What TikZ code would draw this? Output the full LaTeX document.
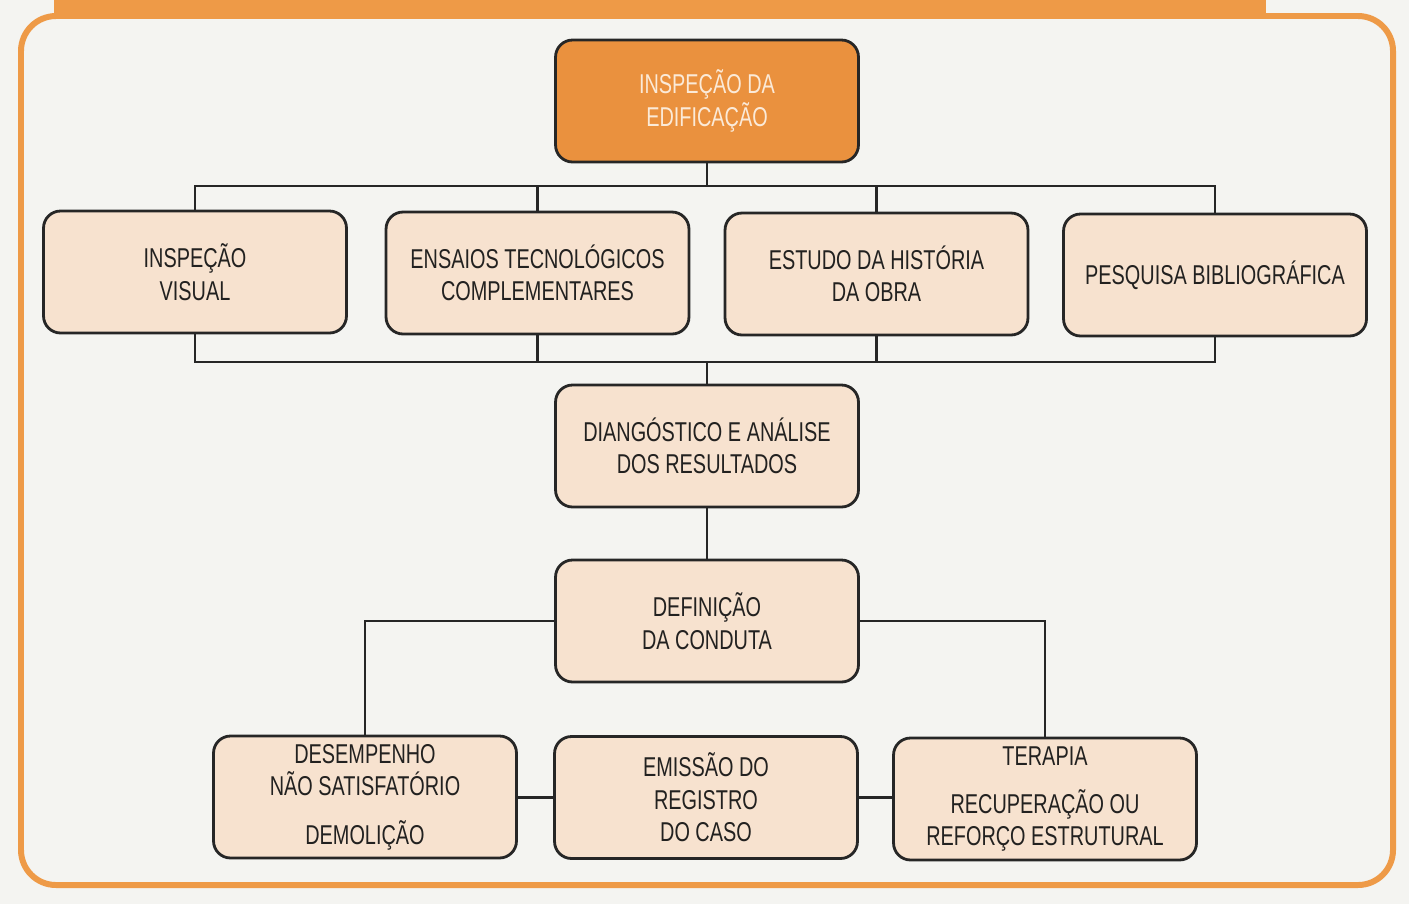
\documentclass[tikz,border=0pt]{standalone}
\usepackage{fontspec}
\setmainfont{Liberation Sans}[FakeStretch=0.73]
\definecolor{pagebg}{HTML}{F4F4F1}
\definecolor{frameorange}{HTML}{EE9A47}
\definecolor{headfill}{HTML}{EA913E}
\definecolor{headtext}{HTML}{FBEAD8}
\definecolor{boxfill}{HTML}{F7E2CF}
\definecolor{inktext}{HTML}{222120}
\tikzset{
  stepbox/.style={draw=black!85, line width=1.6pt, rounded corners=0.34cm,
    fill=boxfill, text=inktext, align=center,
    minimum width=6.06cm, minimum height=2.44cm, inner sep=0pt,
    font=\fontsize{15.5}{18.5}\selectfont},
  headbox/.style={stepbox, fill=headfill, text=headtext},
  link/.style={draw=black!85, line width=1.3pt}
}
\begin{document}
\begin{tikzpicture}[x=0.02cm, y=-0.02cm]
  % page and frame
  \fill[pagebg] (0,0) rectangle (1409,904);
  \useasboundingbox (0,0) rectangle (1409,904);
  \fill[frameorange] (54,0) rectangle (1266,15);
  \draw[frameorange, line width=3.4pt, rounded corners=0.7cm]
    (21,16) rectangle (1393,885);

  % boxes
  \node[headbox] (top) at (707,101) {INSPEÇÃO DA\\EDIFICAÇÃO};
  \node[stepbox] (vis) at (195,272) {INSPEÇÃO\\VISUAL};
  \node[stepbox] (ens) at (537.5,273) {ENSAIOS TECNOLÓGICOS\\COMPLEMENTARES};
  \node[stepbox] (his) at (876.5,274) {ESTUDO DA HISTÓRIA\\DA OBRA};
  \node[stepbox] (bib) at (1215,275) {PESQUISA BIBLIOGRÁFICA};
  \node[stepbox] (dia) at (707,446) {DIANGÓSTICO E ANÁLISE\\DOS RESULTADOS};
  \node[stepbox] (def) at (707,621) {DEFINIÇÃO\\DA CONDUTA};
  \node[stepbox] (des) at (365,797) {DESEMPENHO\\NÃO SATISFATÓRIO\\[9pt]DEMOLIÇÃO};
  \node[stepbox] (emi) at (706,797.5) {EMISSÃO DO\\REGISTRO\\DO CASO};
  \node[stepbox] (ter) at (1045,799) {TERAPIA\\[9pt]RECUPERAÇÃO OU\\REFORÇO ESTRUTURAL};

  % buses
  \coordinate (busA) at (707,186);
  \coordinate (busB) at (707,362);

  % connectors
  \draw[link] (top.south) -- (busA);
  \draw[link] (vis.north) |- (busA);
  \draw[link] (ens.north) |- (busA);
  \draw[link] (his.north) |- (busA);
  \draw[link] (bib.north) |- (busA);
  \draw[link] (vis.south) |- (busB);
  \draw[link] (ens.south) |- (busB);
  \draw[link] (his.south) |- (busB);
  \draw[link] (bib.south) |- (busB);
  \draw[link] (busB) -- (dia.north);
  \draw[link] (dia.south) -- (def.north);
  \draw[link] (def.west) -| (des.north);
  \draw[link] (def.east) -| (ter.north);
  \draw[link] (des.east |- emi.west) -- (emi.west);
  \draw[link] (emi.east) -- (emi.east -| ter.west);
\end{tikzpicture}
\end{document}
